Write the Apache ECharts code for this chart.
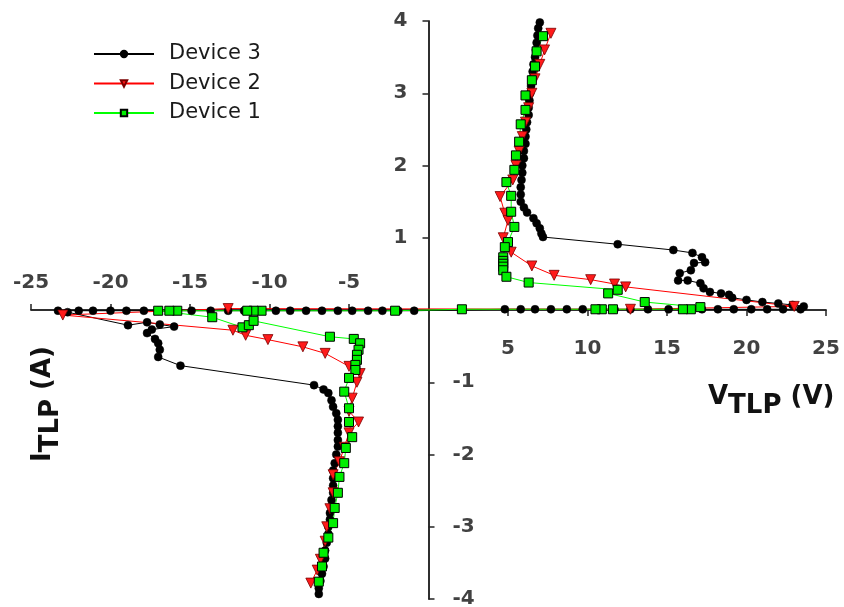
<!DOCTYPE html>
<html>
<head>
<meta charset="utf-8">
<script src="https://cdn.jsdelivr.net/npm/echarts@6/dist/echarts.min.js"></script>
<style>
html,body{margin:0;padding:0;background:#fff;}
#chart{width:844px;height:607px;}
</style>
</head>
<body>
<div id="chart"></div>
<script>
// ---- Data (V in volts, I in amperes), path order: +4A top -> origin -> -4A bottom ----
const d3V = [7.0,6.9,6.85,6.8,6.75,6.7,6.6,6.55,6.5,6.45,6.4,6.35,6.3,6.3,6.2,6.15,6.1,6.1,6.0,6.0,5.9,5.9,5.85,5.8,5.8,5.8,6.0,6.2,6.6,6.8,7.0,7.1,7.2,
  11.9,15.4,16.6,17.2,17.4,16.7,16.5,15.8,15.7,16.3,17.1,17.3,17.7,18.4,18.9,19.1,20.0,21.0,22.0,22.9,23.6,
  23.4,22.3,21.3,20.3,19.2,18.2,17.2,16.1,15.1,13.8,12.7,11.7,10.7,9.7,8.7,7.7,6.7,5.8,4.8,
  -0.9,-1.9,-2.9,-3.8,-4.8,-5.7,-6.7,-7.7,-8.7,-9.6,-10.6,-11.6,-12.6,-13.7,-14.9,-16.0,-17.0,-17.9,-19.0,-20.0,-21.1,-22.0,-23.3,
  -22.7,-18.9,-17.7,-16.9,-16.0,-17.4,-17.7,-17.2,-17.0,-16.9,-17.0,-15.6,
  -7.2,-6.6,-6.3,-6.1,-6.0,-5.8,-5.7,-5.7,-5.7,-5.7,-5.7,-5.8,-5.9,-6.0,-6.0,-6.0,-6.0,-6.1,-6.1,-6.2,-6.2,-6.3,-6.3,-6.4,-6.5,-6.5,-6.6,-6.7,-6.8,-6.9,-6.9];
const d3I = [3.98,3.9,3.8,3.7,3.6,3.5,3.4,3.3,3.2,3.1,3.0,2.9,2.8,2.7,2.6,2.5,2.4,2.3,2.2,2.1,2.0,1.9,1.8,1.7,1.6,1.5,1.42,1.35,1.27,1.2,1.13,1.06,1.01,
  0.91,0.83,0.79,0.73,0.66,0.65,0.55,0.51,0.41,0.41,0.37,0.30,0.25,0.23,0.21,0.17,0.14,0.11,0.09,0.07,0.05,
  0.01,0.01,0.01,0.01,0.01,0.01,0.01,0.01,0.01,0.01,0.01,0.01,0.01,0.01,0.01,0.01,0.01,0.01,0.01,
  -0.01,-0.01,-0.01,-0.01,-0.01,-0.01,-0.01,-0.01,-0.01,-0.01,-0.01,-0.01,-0.01,-0.01,-0.01,-0.01,-0.01,-0.01,-0.01,-0.01,-0.01,-0.01,-0.01,
  -0.03,-0.21,-0.17,-0.20,-0.23,-0.27,-0.32,-0.40,-0.46,-0.55,-0.65,-0.77,
  -1.04,-1.10,-1.15,-1.25,-1.34,-1.43,-1.52,-1.61,-1.70,-1.80,-1.89,-2.00,-2.12,-2.22,-2.33,-2.43,-2.53,-2.63,-2.72,-2.81,-2.90,-3.00,-3.10,-3.22,-3.33,-3.44,-3.55,-3.65,-3.75,-3.85,-3.93];

const d2V = [7.7,7.3,7.0,6.7,6.5,6.3,6.1,5.9,5.7,5.5,5.3,4.5,4.8,5.0,4.7,5.2,6.5,7.9,10.2,11.7,12.4,23.0,
  12.7,-12.6,-23.0,
  -12.3,-11.5,-10.1,-7.9,-6.5,-5.0,-4.3,-4.5,-4.8,-5.0,-4.4,-5.0,-5.3,-5.6,-6.0,-6.0,-6.2,-6.4,-6.5,-6.8,-7.0,-7.4];
const d2I = [3.83,3.6,3.4,3.2,3.0,2.8,2.6,2.4,2.2,2.0,1.8,1.57,1.34,1.24,1.0,0.80,0.61,0.48,0.42,0.36,0.32,0.05,
  0.01,0.02,-0.07,
  -0.28,-0.35,-0.41,-0.51,-0.60,-0.78,-0.88,-1.00,-1.22,-1.40,-1.55,-1.70,-1.90,-2.10,-2.28,-2.53,-2.75,-3.00,-3.20,-3.45,-3.60,-3.78];

const d1V = [7.2,6.8,6.7,6.5,6.1,6.1,5.8,5.7,5.5,5.4,4.9,5.2,5.2,5.4,5.0,4.8,4.7,4.7,4.7,4.7,4.7,4.9,6.3,11.9,11.3,13.6,
  17.1,16.5,16.0,11.6,10.9,10.5,2.1,-2.1,-10.5,-11.0,-11.4,-15.8,-16.3,-17.0,
  -13.6,-11.7,-11.3,-11.0,-6.2,-4.7,-4.3,-4.4,-4.5,-4.5,-4.6,-4.6,-5.0,-5.3,-5.0,-5.0,-4.8,-5.2,-5.3,-5.6,-5.7,-5.9,-6.0,-6.3,-6.6,-6.7,-6.9];
const d1I = [3.79,3.58,3.37,3.18,2.97,2.77,2.57,2.33,2.14,1.94,1.77,1.58,1.36,1.15,0.94,0.87,0.73,0.68,0.64,0.60,0.55,0.46,0.38,0.28,0.23,0.11,
  0.04,0.01,0.01,0.01,0.01,0.01,0.01,-0.01,-0.01,-0.01,-0.01,-0.01,-0.01,-0.01,
  -0.10,-0.24,-0.21,-0.15,-0.37,-0.40,-0.46,-0.55,-0.62,-0.69,-0.76,-0.83,-0.94,-1.13,-1.36,-1.55,-1.76,-1.91,-2.12,-2.31,-2.53,-2.74,-2.95,-3.15,-3.36,-3.55,-3.76];

const seriesNames = ['Device 3','Device 2','Device 1'];
const xTicksPos = [5,10,15,20,25];
const xTicksNeg = [-25,-20,-15,-10,-5];
const yTicksPos = [1,2,3,4];
const yTicksNeg = [-1,-2,-3,-4];

function zip(a,b){ return a.map((v,i)=>[v,b[i]]); }

const chart = echarts.init(document.getElementById('chart'), null, {renderer:'canvas'});
const FONT = '"DejaVu Sans", Verdana, sans-serif';
const axisLine = {show:true, onZero:true, onZeroAxisIndex:0, lineStyle:{color:'#222', width:1.5}};

function measure(t, font){ const c=document.createElement('canvas').getContext('2d'); c.font=font; return c.measureText(t).width; }
const titleFont = 'bold 26px "DejaVu Sans"';
const wV = measure('V', titleFont), wT = measure('TLP', titleFont), wI = measure('I', titleFont);
function txt(x, y, t){
  return {type:'text', x:x, y:y, style:{text:t, font:titleFont, fill:'#111', align:'left', verticalAlign:'middle', textAlign:'left', textVerticalAlign:'middle'}};
}

// tick labels drawn as invisible scatter points placed through the axes
function tickLabelSeries(data, position, distance){
  return {type:'scatter', xAxisIndex:0, yAxisIndex:0, data:data, symbol:'circle', symbolSize:2, silent:true, z:10,
    itemStyle:{color:'rgba(255,255,255,0)'},
    labelLayout:{hideOverlap:false},
    label:{show:true, position:position, distance:distance, lineHeight:20,
      fontFamily:FONT, fontWeight:'bold', fontSize:20, color:'#111',
      formatter:function(p){ return p.data[2]; }}};
}

const option = {
  animation:false,
  backgroundColor:'#fff',
  tooltip:{show:false},
  grid:{left:31, right:18, top:21, bottom:8, containLabel:false, outerBoundsMode:'none'},
  legend:{
    data: seriesNames, orient:'vertical', left:88, top:38, itemWidth:60, itemHeight:8, itemGap:7.5,
    textStyle:{fontFamily:FONT, fontSize:21, color:'#1a1a1a', lineHeight:22, padding:[0,0,0,10]},
    selectedMode:false
  },
  xAxis:[
    {type:'value', min:-25, max:25, interval:5, position:'bottom', axisLine:axisLine,
     splitLine:{show:false},
     axisTick:{show:true, length:6, customValues:xTicksPos, lineStyle:{color:'#222', width:1.5}},
     axisLabel:{show:false}},
    {type:'value', min:-25, max:25, interval:5, position:'top', axisLine:axisLine,
     splitLine:{show:false},
     axisTick:{show:true, length:6, customValues:xTicksNeg, lineStyle:{color:'#222', width:1.5}},
     axisLabel:{show:false}}
  ],
  yAxis:[
    {type:'value', min:-4, max:4, interval:1, position:'left', axisLine:axisLine,
     splitLine:{show:false},
     axisTick:{show:true, length:6, customValues:yTicksPos, lineStyle:{color:'#222', width:1.5}},
     axisLabel:{show:false}},
    {type:'value', min:-4, max:4, interval:1, position:'right', axisLine:axisLine,
     splitLine:{show:false},
     axisTick:{show:true, length:6, customValues:yTicksNeg, lineStyle:{color:'#222', width:1.5}},
     axisLabel:{show:false}}
  ],
  series:[
    {name:seriesNames[0], type:'line', xAxisIndex:0, yAxisIndex:0, data:zip(d3V,d3I),
     symbol:'circle', symbolSize:8, showAllSymbol:true,
     lineStyle:{color:'#000', width:1}, itemStyle:{color:'#000', borderColor:'#000', borderWidth:0.5}},
    {name:seriesNames[1], type:'line', xAxisIndex:0, yAxisIndex:0, data:zip(d2V,d2I),
     symbol:'triangle', symbolRotate:180, symbolSize:10, showAllSymbol:true,
     lineStyle:{color:'#ff0000', width:1}, itemStyle:{color:'#ff1a1a', borderColor:'#7a0000', borderWidth:0.8}},
    {name:seriesNames[2], type:'line', xAxisIndex:0, yAxisIndex:0, data:zip(d1V,d1I),
     symbol:'rect', symbolSize:9, showAllSymbol:true,
     lineStyle:{color:'#00ff00', width:1}, itemStyle:{color:'#00ee00', borderColor:'#000', borderWidth:1}},
    tickLabelSeries(xTicksPos.map(v=>[v,0,String(v)]), 'bottom', 28),
    tickLabelSeries(xTicksNeg.map(v=>[v,0,String(v)]), 'top', 16),
    tickLabelSeries(yTicksPos.map(v=>[0,v,String(v)]), 'left', 20),
    tickLabelSeries(yTicksNeg.map(v=>[0,v,String(v)]), 'right', 23)
  ],
  graphic:[
    {type:'group', x:0, y:0, children:[
      txt(708, 397, 'V'),
      txt(708 + wV, 406, 'TLP'),
      txt(708 + wV + wT, 397, ' (V)')
    ]},
    {type:'group', x:43, y:462, rotation:Math.PI/2, children:[
      txt(0, 0, 'I'),
      txt(wI, 8, 'TLP'),
      txt(wI + wT, 0, ' (A)')
    ]}
  ]
};
chart.setOption(option);
</script>
</body>
</html>
